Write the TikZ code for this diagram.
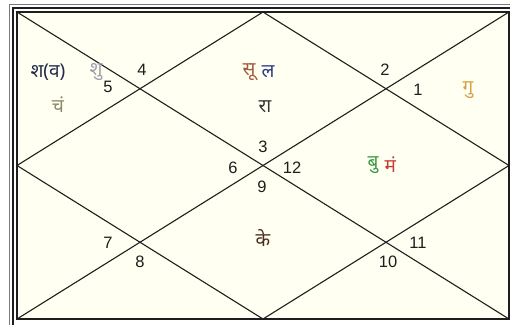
\documentclass[tikz,border=0pt]{standalone}
\usepackage{fontspec}
\setmainfont{Liberation Sans}
\newfontfamily\deva[Script=Devanagari]{Noto Sans}
\usetikzlibrary{positioning}
\definecolor{Paper}{HTML}{FFFFF2}
\definecolor{Ink}{HTML}{1E1E1E}
\definecolor{FrameGrey}{HTML}{7A7A7A}
\definecolor{Shani}{HTML}{22294A}
\definecolor{Shukra}{HTML}{A09CB0}
\definecolor{Chandra}{HTML}{8C8A6C}
\definecolor{Surya}{HTML}{A8573A}
\definecolor{Lagna}{HTML}{2F3A86}
\definecolor{Rahu}{HTML}{3A3636}
\definecolor{Guru}{HTML}{D9A24A}
\definecolor{Budha}{HTML}{3B9A45}
\definecolor{Mangal}{HTML}{C63C34}
\definecolor{Ketu}{HTML}{4A2C1E}
\tikzset{
  outerline/.style={draw=FrameGrey,line width=1pt},
  innerline/.style={draw=Ink,line width=1.1pt},
  rule/.style={draw=Ink,line width=1.1pt},
  house/.style={font=\fontsize{16.5}{17}\selectfont,text=Ink,inner sep=0pt},
  graha/.style={font=\deva\fontsize{19}{20}\selectfont,inner sep=0pt}
}
\begin{document}
\begin{tikzpicture}[x=1pt,y=-1pt,node distance=.2cm]
  \useasboundingbox (0,0) rectangle (510,324);
  % frame
  \draw[outerline] (9.5,4.5) rectangle (520,330);
  \draw[innerline] (13,8) rectangle (516,326);
  \draw[innerline,fill=Paper] (17,12) rectangle (509,319);
  \coordinate (tl) at (17,12);
  \coordinate (tr) at (509,12);
  \coordinate (bl) at (17,319);
  \coordinate (br) at (509,319);
  \coordinate (tm) at (263,12);
  \coordinate (bm) at (263,319);
  \coordinate (lm) at (17,165.5);
  \coordinate (rm) at (509,165.5);
  % diagonals and inner diamond
  \draw[rule] (tl) -- (br);
  \draw[rule] (tr) -- (bl);
  \draw[rule] (tm) -- (rm) -- (bm) -- (lm) -- cycle;
  % house numbers
  \node[house] (h4) at (142,70) {4};
  \node[house] (h5) at (108,87) {5};
  \node[house] (h2) at (385,70) {2};
  \node[house] (h1) at (418,90) {1};
  \node[house] (h3) at (263,147) {3};
  \node[house] (h6) at (233,168) {6};
  \node[house] (h12) at (292,168) {12};
  \node[house] (h9) at (262,187) {9};
  \node[house] (h7) at (108,243) {7};
  \node[house] (h8) at (140,262) {8};
  \node[house] (h11) at (418,243) {11};
  \node[house] (h10) at (388,262) {10};
  % grahas
  \node[graha,text=Shani] (sat) at (48,72) {श(व)};
  \node[graha,text=Shukra] (ven) at (96,72) {शु};
  \node[graha,text=Chandra] (moon) at (58,105) {चं};
  \node[graha,text=Surya] (sun) at (249,72) {सू};
  \node[graha,text=Lagna,right=of sun] (asc) {ल};
  \node[graha,text=Rahu] (rahu) at (265,107) {रा};
  \node[graha,text=Guru] (jup) at (468,90) {गु};
  \node[graha,text=Budha] (merc) at (373,165) {बु};
  \node[graha,text=Mangal,right=of merc] (mars) {मं};
  \node[graha,text=Ketu] (ketu) at (263,238) {के};
\end{tikzpicture}
\end{document}
